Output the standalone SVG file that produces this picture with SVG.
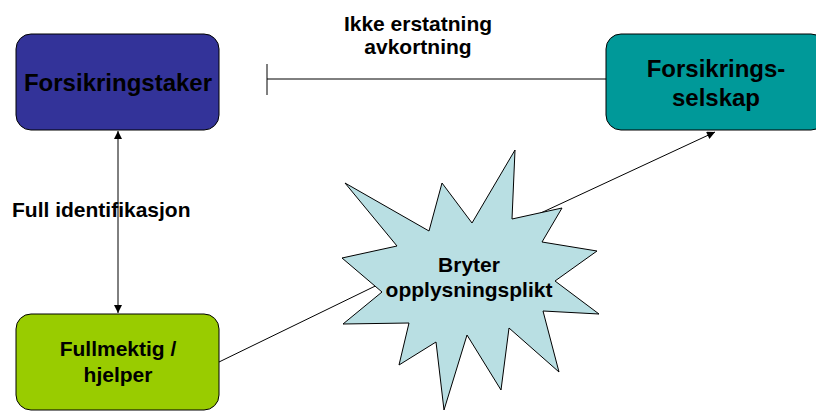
<svg xmlns="http://www.w3.org/2000/svg" width="816" height="412" viewBox="0 0 816 412">
<style>
  .box { stroke: #000; stroke-width: 1; }
  .t { font-family: "Liberation Sans", Arial, sans-serif; font-weight: bold; fill: #000; text-anchor: middle; }
  .ln { stroke: #000; stroke-width: 1; fill: none; }
</style>
<defs>
  <marker id="ah" viewBox="0 0 10 10" refX="10" refY="5" markerWidth="9" markerHeight="8" markerUnits="userSpaceOnUse" orient="auto-start-reverse">
    <path d="M0,0 L10,5 L0,10 z" fill="#000"/>
  </marker>
</defs>
<rect width="816" height="412" fill="#fff"/>
<g id="connectors">
  <line class="ln" x1="118" y1="131" x2="118" y2="313" marker-start="url(#ah)" marker-end="url(#ah)"/>
  <line class="ln" x1="267" y1="79" x2="606" y2="79"/>
  <line class="ln" x1="267" y1="64" x2="267" y2="95"/>
  <line class="ln" x1="219" y1="362" x2="400" y2="274"/>
  <line class="ln" x1="530" y1="218" x2="715" y2="132" marker-end="url(#ah)"/>
</g>
<g id="forsikringstaker">
  <rect class="box" x="16" y="34" width="203" height="96" rx="15" fill="#333399"/>
  <text class="t" x="118" y="91" font-size="24">Forsikringstaker</text>
</g>
<g id="forsikringsselskap">
  <rect class="box" x="606" y="34" width="220" height="96" rx="15" fill="#009999"/>
  <text class="t" x="716" y="77" font-size="24">Forsikrings-</text>
  <text class="t" x="716" y="106" font-size="24">selskap</text>
</g>
<g id="fullmektig">
  <rect class="box" x="16" y="314" width="203" height="96" rx="15" fill="#99cc00"/>
  <text class="t" x="118" y="356" font-size="21">Fullmektig /</text>
  <text class="t" x="118" y="382" font-size="21">hjelper</text>
</g>
<g id="bryter">
  <polygon class="box" fill="#b9dfe3" points="345,183 429,231 442,183 472,223 515,150 512,219 562,208 542,242 597,251 555,281 599,314 543,311 559,372 509,328 501,390 467,335 444,410 436,342 399,365 409,323 343,324 382,292 342,258 397,246"/>
  <text class="t" x="469" y="272" font-size="21">Bryter</text>
  <text class="t" x="469" y="297" font-size="21">opplysningsplikt</text>
</g>
<g id="labels">
  <text class="t" x="418" y="31" font-size="21">Ikke erstatning</text>
  <text class="t" x="418" y="54" font-size="21">avkortning</text>
  <text class="t" x="12" y="217" font-size="21" text-anchor="start" style="text-anchor:start">Full identifikasjon</text>
</g>
</svg>
